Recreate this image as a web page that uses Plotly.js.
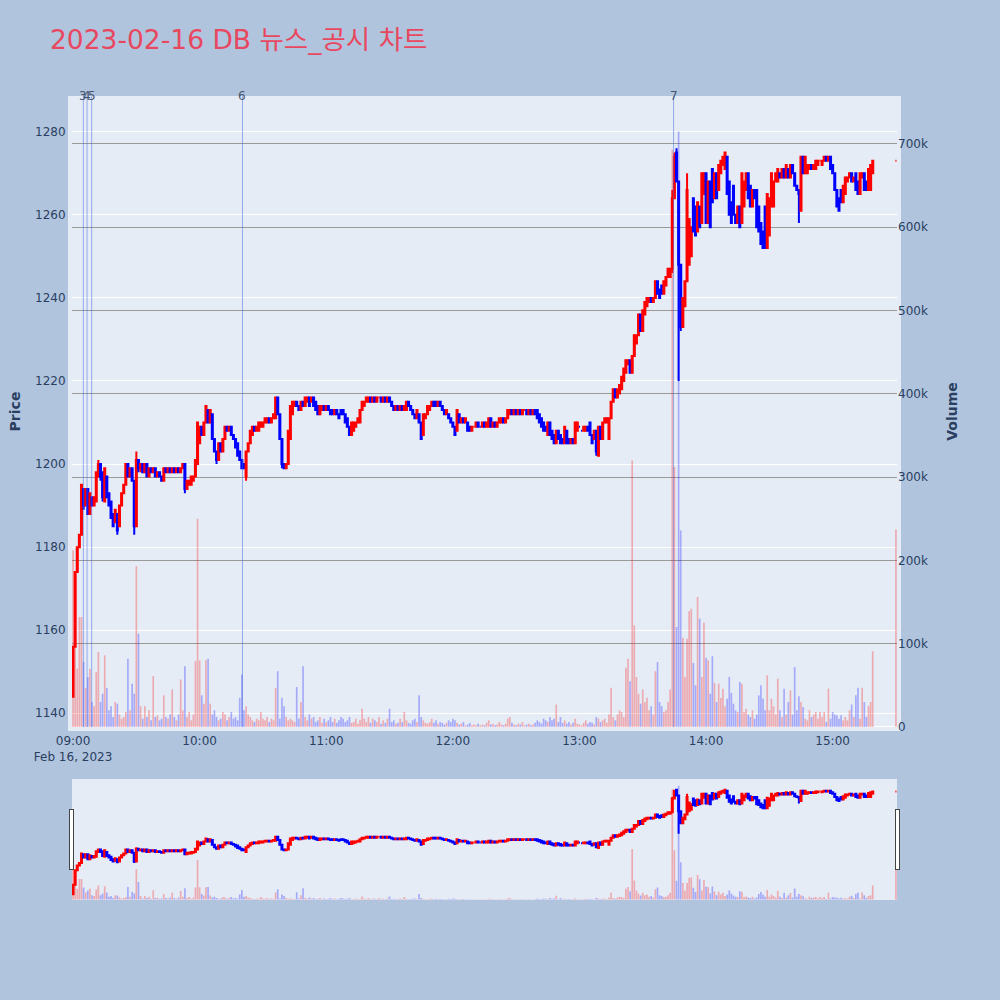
<!DOCTYPE html>
<html>
<head>
<meta charset="utf-8">
<script src="https://cdn.plot.ly/plotly-3.0.1.min.js"></script>
<style>html,body{margin:0;padding:0;background:#B0C4DE;}#chart{width:1000px;height:1000px;}</style>
</head>
<body>
<div id="chart"></div>
<script>
// Session: 09:00 .. 15:19 every minute, then the 15:30 closing print
const SESSION_DATE = '2023-02-16';
const SESSION_START = '09:00';
const CLOSE_TIME = '15:30';

const OPEN = [
1144,1156,1174,1180,1183,1194,1190,1194,1188,1192,
1190,1191,1197,1200,1198,1191,1197,1193,1191,1188,
1186,1188,1185,1190,1193,1195,1200,1197,1199,1196,
1185,1201,1199,1200,1198,1200,1197,1199,1198,1199,
1197,1198,1197,1196,1199,1198,1199,1198,1199,1198,
1199,1198,1199,1200,1194,1195,1195,1196,1197,1200,
1205,1209,1207,1210,1213,1210,1212,1206,1203,1201,
1205,1203,1206,1209,1208,1209,1207,1206,1205,1203,
1201,1200,1197,1203,1205,1207,1209,1208,1208,1209,
1209,1210,1210,1211,1210,1211,1211,1216,1212,1206,
1200,1199,1200,1206,1212,1214,1215,1214,1213,1215,
1214,1215,1216,1215,1216,1215,1214,1212,1213,1214,
1213,1214,1213,1213,1212,1213,1212,1213,1213,1212,
1211,1209,1207,1208,1209,1210,1210,1213,1214,1215,
1215,1216,1215,1216,1215,1216,1216,1215,1216,1215,
1216,1215,1214,1213,1214,1213,1214,1213,1213,1215,
1214,1213,1212,1211,1212,1210,1207,1211,1212,1213,
1214,1215,1215,1214,1215,1214,1213,1212,1212,1211,
1210,1209,1208,1212,1210,1211,1210,1210,1209,1208,
1209,1209,1210,1209,1209,1210,1209,1209,1211,1209,
1210,1209,1210,1210,1211,1210,1211,1212,1213,1212,
1213,1212,1213,1212,1213,1213,1212,1213,1212,1213,
1213,1212,1211,1210,1209,1207,1210,1208,1207,1205,
1208,1207,1206,1205,1208,1206,1205,1206,1205,1208,
1209,1208,1208,1208,1209,1210,1207,1206,1208,1202,
1209,1206,1210,1210,1206,1211,1215,1218,1216,1217,
1218,1220,1222,1224,1225,1222,1226,1229,1231,1236,
1232,1236,1238,1239,1240,1239,1240,1244,1242,1243,
1241,1243,1245,1245,1247,1264,1275,1268,1248,1233,
1238,1244,1248,1250,1264,1262,1256,1262,1258,1265,
1270,1258,1268,1271,1264,1270,1266,1270,1272,1271,
1274,1268,1263,1267,1260,1258,1262,1258,1262,1266,
1270,1267,1262,1266,1266,1262,1258,1256,1262,1252,
1255,1262,1262,1268,1268,1270,1269,1271,1269,1271,
1269,1272,1270,1267,1266,1261,1274,1270,1270,1271,
1272,1271,1271,1272,1273,1272,1273,1274,1273,1274,
1272,1270,1266,1264,1266,1263,1265,1268,1269,1270,
1268,1270,1268,1265,1269,1270,1268,1266,1266,1270,
1273];

const HIGH = [
1156,1174,1180,1183,1195,1194,1194,1194,1193,1192,
1192,1198,1201,1200,1198,1199,1197,1193,1191,1188,
1189,1188,1190,1193,1195,1200,1200,1199,1199,1196,
1203,1201,1200,1200,1200,1200,1199,1199,1199,1199,
1198,1198,1197,1199,1199,1199,1199,1199,1199,1199,
1199,1199,1200,1200,1196,1196,1197,1197,1201,1210,
1209,1209,1210,1214,1213,1213,1212,1206,1203,1205,
1205,1206,1209,1209,1209,1209,1207,1206,1205,1203,
1201,1200,1203,1205,1208,1209,1209,1209,1210,1210,
1210,1211,1211,1211,1211,1212,1216,1216,1212,1206,
1200,1200,1208,1214,1215,1215,1215,1214,1215,1215,
1216,1216,1216,1216,1216,1215,1214,1214,1214,1214,
1214,1214,1213,1213,1213,1213,1212,1213,1213,1212,
1211,1209,1210,1210,1210,1211,1213,1215,1215,1216,
1216,1216,1216,1216,1216,1216,1216,1216,1216,1216,
1216,1215,1214,1214,1214,1214,1214,1214,1215,1215,
1214,1213,1212,1213,1212,1210,1212,1212,1214,1214,
1215,1215,1215,1215,1215,1214,1213,1213,1212,1211,
1210,1209,1213,1212,1211,1211,1211,1210,1209,1209,
1209,1210,1210,1209,1210,1210,1210,1211,1211,1210,
1210,1210,1211,1211,1211,1211,1213,1213,1213,1213,
1213,1213,1213,1213,1213,1213,1213,1213,1213,1213,
1213,1212,1211,1210,1209,1210,1210,1208,1207,1208,
1208,1207,1206,1209,1208,1206,1206,1206,1210,1210,
1209,1208,1209,1209,1209,1210,1207,1208,1208,1209,
1209,1210,1211,1211,1211,1215,1218,1218,1218,1219,
1221,1223,1225,1225,1225,1226,1231,1231,1236,1236,
1237,1239,1240,1240,1240,1240,1244,1244,1242,1243,
1244,1245,1247,1247,1266,1275,1276,1268,1248,1240,
1244,1270,1259,1257,1264,1262,1263,1262,1270,1270,
1270,1268,1268,1271,1270,1270,1272,1273,1274,1275,
1274,1268,1263,1267,1260,1262,1262,1270,1268,1270,
1270,1267,1266,1266,1266,1262,1258,1256,1262,1265,
1264,1270,1268,1270,1271,1270,1271,1271,1272,1271,
1272,1272,1270,1267,1266,1274,1274,1274,1272,1272,
1272,1272,1273,1273,1273,1273,1274,1274,1274,1274,
1272,1270,1266,1264,1266,1267,1269,1269,1270,1270,
1269,1270,1268,1270,1270,1270,1268,1271,1272,1273,
1273];

const LOW = [
1144,1156,1174,1180,1183,1189,1190,1188,1188,1190,
1190,1191,1197,1196,1191,1191,1192,1190,1187,1185,
1186,1183,1185,1190,1193,1195,1197,1197,1196,1183,
1185,1198,1198,1198,1198,1197,1197,1198,1198,1197,
1197,1197,1196,1196,1198,1198,1198,1198,1198,1198,
1198,1198,1199,1193,1194,1195,1195,1196,1197,1200,
1205,1207,1207,1210,1210,1210,1206,1203,1200,1201,
1203,1203,1206,1208,1208,1207,1206,1204,1202,1201,
1199,1199,1196,1203,1205,1207,1208,1208,1208,1209,
1209,1210,1210,1210,1210,1211,1211,1212,1206,1199,
1199,1199,1200,1206,1212,1214,1214,1213,1213,1214,
1214,1215,1214,1215,1214,1213,1212,1212,1213,1213,
1213,1213,1212,1212,1212,1212,1211,1212,1212,1210,
1209,1207,1207,1208,1209,1210,1210,1213,1214,1215,
1215,1215,1215,1215,1215,1216,1215,1215,1215,1215,
1215,1214,1213,1213,1213,1213,1213,1213,1213,1214,
1213,1212,1211,1211,1210,1206,1207,1211,1212,1213,
1214,1214,1214,1214,1214,1213,1212,1212,1211,1210,
1209,1207,1208,1210,1210,1210,1210,1208,1208,1208,
1209,1209,1209,1209,1209,1209,1209,1209,1209,1209,
1209,1209,1210,1210,1210,1210,1211,1212,1212,1212,
1212,1212,1212,1212,1213,1212,1212,1212,1212,1212,
1211,1210,1209,1208,1208,1207,1207,1206,1205,1205,
1206,1205,1205,1205,1205,1205,1205,1205,1205,1208,
1209,1208,1208,1208,1208,1207,1205,1206,1202,1202,
1206,1206,1210,1210,1206,1211,1215,1216,1216,1217,
1218,1220,1222,1224,1222,1222,1226,1229,1231,1232,
1232,1236,1238,1239,1239,1239,1240,1241,1240,1241,
1241,1243,1245,1245,1246,1264,1268,1220,1232,1233,
1238,1244,1248,1250,1256,1255,1256,1257,1258,1265,
1258,1258,1257,1263,1264,1264,1266,1270,1272,1271,
1265,1260,1258,1260,1258,1258,1257,1258,1262,1266,
1264,1262,1262,1264,1257,1256,1253,1252,1252,1252,
1255,1262,1262,1268,1268,1269,1269,1269,1269,1269,
1269,1270,1267,1266,1258,1261,1270,1270,1270,1271,
1271,1271,1271,1272,1273,1272,1273,1273,1273,1271,
1270,1266,1262,1261,1263,1263,1265,1268,1269,1268,
1268,1266,1265,1265,1269,1266,1266,1266,1266,1270,
1273];

const CLOSE = [
1156,1174,1180,1183,1195,1190,1194,1188,1193,1190,
1192,1198,1200,1197,1192,1199,1192,1190,1187,1185,
1189,1184,1190,1193,1195,1200,1197,1199,1196,1185,
1201,1199,1200,1198,1200,1197,1199,1198,1199,1197,
1198,1197,1196,1199,1198,1199,1198,1199,1198,1199,
1198,1199,1200,1194,1196,1196,1197,1197,1201,1210,
1209,1207,1210,1214,1210,1213,1206,1203,1201,1205,
1203,1206,1209,1208,1209,1207,1206,1204,1202,1201,
1199,1199,1203,1205,1208,1209,1208,1209,1210,1210,
1210,1211,1211,1210,1211,1212,1216,1212,1206,1200,
1199,1200,1208,1214,1215,1215,1214,1213,1215,1214,
1216,1216,1214,1216,1214,1213,1212,1214,1214,1213,
1214,1213,1212,1212,1213,1212,1211,1212,1212,1210,
1209,1207,1210,1210,1210,1211,1213,1215,1215,1216,
1216,1215,1216,1215,1216,1216,1215,1216,1215,1216,
1215,1214,1213,1214,1213,1214,1213,1214,1215,1214,
1213,1212,1211,1213,1210,1206,1212,1212,1214,1214,
1215,1214,1214,1215,1214,1213,1212,1213,1211,1210,
1209,1207,1213,1210,1211,1210,1211,1208,1208,1209,
1209,1210,1209,1209,1210,1209,1210,1211,1209,1210,
1209,1210,1211,1211,1210,1211,1213,1213,1212,1213,
1212,1213,1212,1213,1213,1212,1213,1212,1213,1212,
1211,1210,1209,1208,1208,1210,1207,1206,1205,1208,
1206,1205,1205,1209,1205,1205,1206,1205,1210,1210,
1209,1208,1209,1209,1208,1207,1205,1208,1203,1209,
1206,1210,1211,1211,1211,1215,1218,1216,1218,1219,
1221,1223,1225,1225,1222,1226,1231,1231,1236,1232,
1237,1239,1240,1240,1239,1240,1244,1241,1240,1241,
1244,1245,1247,1247,1264,1274,1268,1248,1233,1240,
1244,1266,1259,1257,1256,1255,1263,1257,1270,1270,
1258,1268,1257,1263,1270,1264,1272,1273,1274,1275,
1265,1260,1258,1260,1258,1262,1257,1270,1268,1270,
1264,1262,1266,1264,1257,1256,1253,1252,1252,1265,
1264,1270,1268,1270,1271,1269,1271,1269,1272,1269,
1272,1270,1267,1266,1265,1274,1270,1274,1272,1272,
1271,1272,1273,1273,1273,1273,1274,1273,1274,1271,
1270,1266,1262,1261,1263,1267,1269,1269,1270,1268,
1269,1266,1265,1270,1270,1266,1266,1271,1272,1273,
1273];

const VOLUME = [
212000,98000,70000,132000,132000,78000,47000,60000,70000,30000,
25000,66000,90000,30000,40000,86000,47000,20000,25000,12000,
30000,28000,15000,10000,12000,18000,82000,20000,52000,40000,
193000,112000,25000,10000,25000,12000,20000,8000,61000,12000,
14000,8000,10000,38000,12000,10000,15000,45000,12000,8000,
15000,57000,20000,73000,12000,18000,8000,15000,79000,250000,
80000,38000,28000,80000,82000,28000,15000,20000,12000,8000,
10000,18000,15000,8000,12000,18000,10000,12000,8000,35000,
63000,20000,25000,15000,12000,8000,6000,10000,8000,18000,
10000,8000,12000,6000,10000,8000,47000,67000,10000,35000,
25000,12000,8000,10000,8000,6000,48000,10000,30000,73000,
12000,8000,15000,10000,12000,6000,8000,12000,5000,10000,
6000,8000,12000,6000,10000,5000,8000,12000,10000,6000,
8000,12000,5000,6000,10000,4000,8000,22000,10000,6000,
12000,5000,10000,8000,6000,12000,4000,8000,5000,10000,
22000,6000,8000,4000,5000,10000,6000,18000,8000,5000,
4000,8000,10000,6000,38000,12000,8000,5000,4000,6000,
10000,5000,8000,4000,6000,5000,3000,5000,8000,6000,
10000,8000,5000,3000,4000,6000,2000,3000,5000,2000,
3000,2000,4000,2000,3000,2000,5000,8000,3000,4000,
2000,3000,6000,3000,2000,4000,10000,12000,5000,3000,
2000,4000,3000,6000,2000,3000,4000,2000,3000,5000,
8000,6000,4000,10000,8000,6000,12000,8000,10000,27000,
6000,12000,5000,8000,4000,6000,3000,5000,10000,4000,
3000,2000,5000,8000,4000,6000,5000,3000,12000,10000,
6000,8000,10000,5000,15000,47000,12000,8000,15000,20000,
18000,12000,71000,82000,55000,320000,122000,60000,40000,28000,
45000,30000,35000,20000,25000,15000,67000,78000,30000,25000,
18000,20000,30000,45000,693000,312000,120000,715000,236000,107000,
60000,106000,139000,142000,77000,50000,156000,130000,60000,125000,
83000,80000,40000,85000,53000,30000,52000,35000,46000,25000,
34000,60000,41000,28000,20000,18000,54000,52000,18000,22000,
15000,12000,20000,10000,15000,38000,50000,34000,20000,62000,
20000,34000,25000,15000,58000,20000,12000,46000,15000,30000,
44000,15000,72000,20000,37000,30000,24000,10000,8000,20000,
12000,15000,18000,10000,18000,12000,18000,6000,46000,10000,
18000,15000,14000,10000,14000,8000,12000,8000,20000,27000,
12000,38000,47000,10000,47000,30000,12000,25000,30000,91000,
237000];

// News / disclosure markers
const NEWS_TIMES = ['2023-02-16 09:04:53','2023-02-16 09:06:38','2023-02-16 09:08:49','2023-02-16 10:20:18','2023-02-16 13:44:36'];
const NEWS_LABELS = ['3','4','5','6','7'];

const TITLE = '2023-02-16 DB 뉴스_공시 차트';

// build timestamps: one per minute of the continuous session, then the close print
const TIMES = [];
(function(){
  const base = new Date(SESSION_DATE + 'T' + SESSION_START + ':00');
  const pad = n => String(n).padStart(2,'0');
  for (let i = 0; i < OPEN.length - 1; i++) {
    const d = new Date(base.getTime() + i*60000);
    TIMES.push(SESSION_DATE + ' ' + pad(d.getHours()) + ':' + pad(d.getMinutes()) + ':00');
  }
  TIMES.push(SESSION_DATE + ' ' + CLOSE_TIME + ':00');
})();

const volColors = OPEN.map((o,i) => CLOSE[i] >= o ? 'rgba(255,0,0,0.28)' : 'rgba(0,0,255,0.28)');

const FONT = '"DejaVu Sans", "Noto Sans CJK KR", sans-serif';
const PLOT_BG = '#E5ECF6';

const traces = [
  {
    type: 'bar', x: TIMES, y: VOLUME, yaxis: 'y2',
    marker: {color: volColors, line: {width: 0}},
    hoverinfo: 'skip', showlegend: false
  },
  {
    type: 'candlestick', x: TIMES, open: OPEN, high: HIGH, low: LOW, close: CLOSE,
    increasing: {line: {color: '#FF0000', width: 2}, fillcolor: '#FF0000'},
    decreasing: {line: {color: '#0000FF', width: 2}, fillcolor: '#0000FF'},
    showlegend: false
  }
];

const shapes = [];
const annotations = [];
NEWS_TIMES.forEach((t,i) => {
  shapes.push({type:'line', xref:'x', yref:'paper', x0:t, x1:t, y0:0, y1:1,
    line:{color:'rgba(65,105,225,0.5)', width:1}});
  annotations.push({x:t, xref:'x', y:1, yref:'paper', yanchor:'middle', text:NEWS_LABELS[i],
    showarrow:false, font:{family: FONT, size:12, color:'#4a5670'}});
});

const layout = {
  width: 1000, height: 1000,
  paper_bgcolor: '#B0C4DE', plot_bgcolor: PLOT_BG,
  font: {family: FONT, size: 12, color: '#2a3f5f'},
  margin: {l: 72, r: 103, t: 96, b: 100},
  title: {text: TITLE, x: 0.05, xanchor: 'left', xref: 'container', y: 0.96, yanchor: 'middle',
    font: {family: FONT, size: 26.5, color: '#E8485F'}},
  showlegend: false,
  bargap: 0.2,
  xaxis: {
    type: 'date', autorange: true, showgrid: false, zeroline: false, ticks: '',
    showline: true, linewidth: 4, linecolor: PLOT_BG, mirror: false,
    dtick: 3600000, tick0: '2023-02-16 09:00:00',
    tickfont: {family: FONT, size: 12, color: '#2a3f5f'},
    rangeslider: {visible: true, bgcolor: PLOT_BG, thickness: 0.15, borderwidth: 0}
  },
  yaxis: {
    range: [1136.7, 1288.6], tick0: 1140, dtick: 20, showgrid: true, gridcolor: '#FFFFFF', gridwidth: 1,
    zeroline: false, ticks: '', showline: true, linewidth: 4, linecolor: PLOT_BG, mirror: true,
    automargin: true,
    tickfont: {family: FONT, size: 12, color: '#2a3f5f'},
    title: {text: '<b>Price</b>', standoff: 12, font: {family: FONT, size: 14, color: '#2a3f5f'}}
  },
  yaxis2: {
    overlaying: 'y', side: 'right', range: [0, 757500], tick0: 0, dtick: 100000,
    showgrid: true, gridcolor: '#9a9a9a', gridwidth: 1,
    zeroline: true, zerolinecolor: '#FFFFFF', zerolinewidth: 2, ticks: '',
    automargin: true,
    tickfont: {family: FONT, size: 12, color: '#2a3f5f'},
    title: {text: '<b>Volume</b>', standoff: 20, font: {family: FONT, size: 14, color: '#2a3f5f'}}
  },
  shapes: shapes,
  annotations: annotations
};

Plotly.newPlot('chart', traces, layout, {displayModeBar: false, responsive: false});
</script>
</body>
</html>
